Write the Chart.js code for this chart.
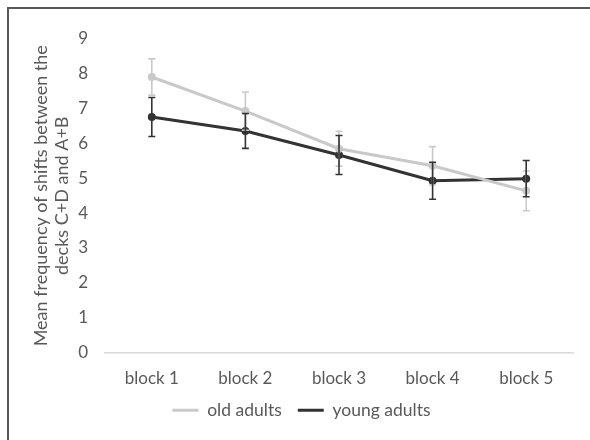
<!DOCTYPE html>
<html>
<head>
<meta charset="utf-8">
<script src="https://cdn.jsdelivr.net/npm/chart.js@4/dist/chart.umd.min.js"></script>
<style>
  html, body { margin: 0; padding: 0; background: #fff; }
  #wrap { position: absolute; left: 0; top: 0; width: 590px; height: 440px; }
  #frame { position: absolute; left: 7px; top: 7px; right: 0; bottom: 0;
           border-left: 2px solid #595959; border-top: 2px solid #595959; pointer-events: none; }
</style>
</head>
<body>
<div id="wrap">
  <canvas id="chart" width="590" height="440"></canvas>
  <div id="frame"></div>
</div>
<script>
const blocks = ['block 1', 'block 2', 'block 3', 'block 4', 'block 5'];
const oldAdults = [7.91, 6.93, 5.85, 5.36, 4.64];
const oldErr = [0.52, 0.55, 0.5, 0.55, 0.57];
const youngAdults = [6.76, 6.36, 5.67, 4.93, 4.99];
const youngErr = [0.56, 0.5, 0.56, 0.53, 0.52];
const yTicks = [0, 1, 2, 3, 4, 5, 6, 7, 8, 9];

const textColor = '#595959';

// error bars drawn through the y scale
const errorBars = {
    id: 'errorBars',
    afterDatasetsDraw(chart) {
        const ctx = chart.ctx;
        const y = chart.scales.y;
        chart.data.datasets.forEach((ds, i) => {
            const meta = chart.getDatasetMeta(i);
            ctx.save();
            ctx.strokeStyle = ds.borderColor;
            ctx.lineWidth = 1.6;
            meta.data.forEach((pt, j) => {
                const v = ds.data[j], e = ds.errors[j];
                const top = y.getPixelForValue(v + e);
                const bot = y.getPixelForValue(v - e);
                ctx.beginPath();
                ctx.moveTo(pt.x, top); ctx.lineTo(pt.x, bot);
                ctx.moveTo(pt.x - 3.5, top); ctx.lineTo(pt.x + 3.5, top);
                ctx.moveTo(pt.x - 3.5, bot); ctx.lineTo(pt.x + 3.5, bot);
                ctx.stroke();
            });
            ctx.restore();
        });
    }
};

new Chart(document.getElementById('chart').getContext('2d'), {
    type: 'line',
    data: {
        labels: blocks,
        datasets: [{
            label: 'old adults',
            data: oldAdults,
            errors: oldErr,
            borderColor: '#c9c9c9',
            backgroundColor: '#c9c9c9',
            borderWidth: 3,
            pointRadius: 2.5
        }, {
            label: 'young adults',
            data: youngAdults,
            errors: youngErr,
            borderColor: '#333333',
            backgroundColor: '#333333',
            borderWidth: 3,
            pointRadius: 2.5
        }]
    },
    options: {
        responsive: false,
        animation: false,
        elements: { line: { tension: 0 } },
        layout: { padding: { left: 30, top: 39, right: 17, bottom: 11 } },
        plugins: {
            legend: {
                position: 'bottom',
                labels: {
                    color: textColor,
                    font: { family: 'Lato', size: 17.5 },
                    usePointStyle: true,
                    pointStyle: 'line',
                    pointStyleWidth: 26,
                    padding: 16
                }
            },
            tooltip: { enabled: false }
        },
        scales: {
            x: {
                offset: true,
                afterFit: s => { s.height = 33; },
                grid: { display: false, drawTicks: false },
                border: { color: '#d9d9d9', width: 1.5 },
                ticks: { color: textColor, font: { family: 'Lato', size: 17 }, padding: 16 }
            },
            y: {
                min: 0,
                max: 9,
                afterBuildTicks: s => { s.ticks = yTicks.map(v => ({ value: v })); },
                afterFit: s => { s.width = 75; },
                grid: { display: false, drawTicks: false },
                border: { display: false },
                ticks: { color: textColor, font: { family: 'Lato', size: 17 }, padding: 17 },
                title: {
                    display: true,
                    text: ['Mean frequency of shifts between the', 'decks C+D and A+B'],
                    color: textColor,
                    font: { family: 'Lato', size: 18 },
                    padding: 0
                }
            }
        }
    },
    plugins: [errorBars]
});
</script>
</body>
</html>
